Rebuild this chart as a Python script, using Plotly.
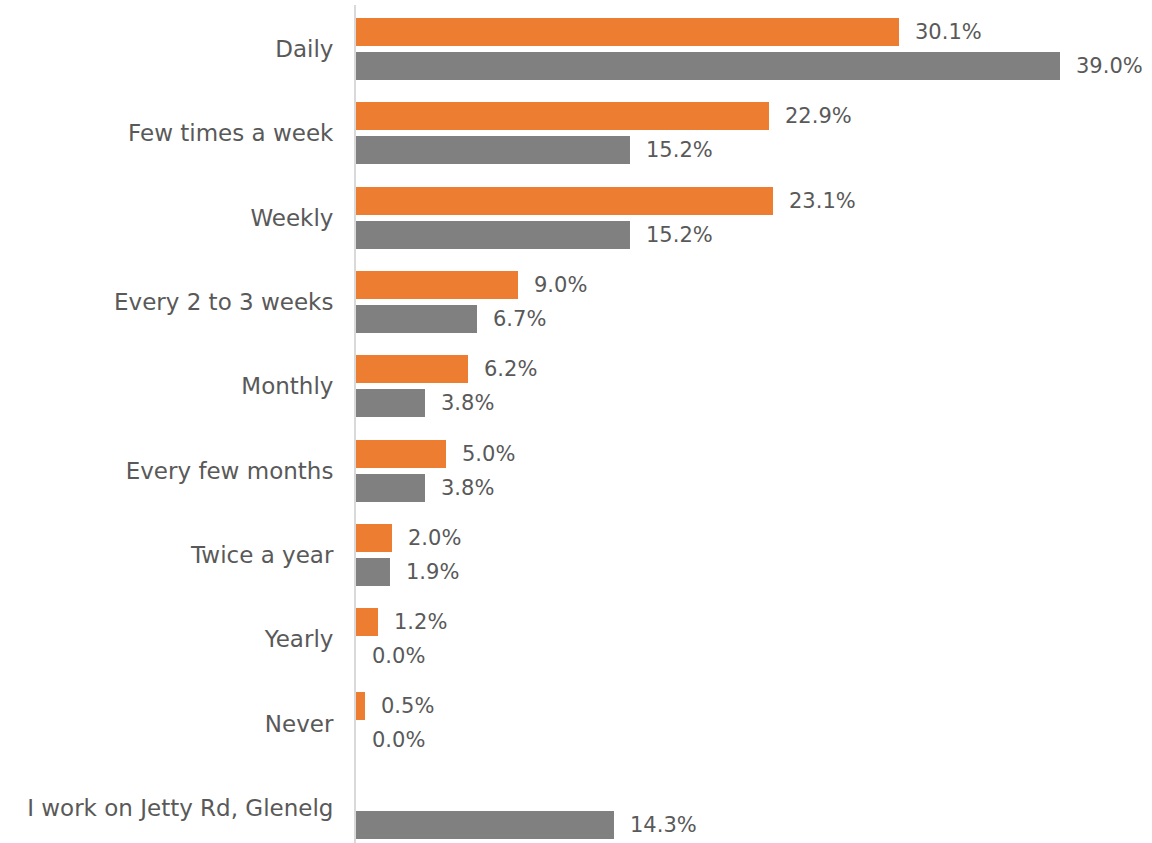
import plotly.graph_objects as go

categories = [
    "Daily",
    "Few times a week",
    "Weekly",
    "Every 2 to 3 weeks",
    "Monthly",
    "Every few months",
    "Twice a year",
    "Yearly",
    "Never",
    "I work on Jetty Rd, Glenelg",
]
orange_values = [30.1, 22.9, 23.1, 9.0, 6.2, 5.0, 2.0, 1.2, 0.5, None]
gray_values = [39.0, 15.2, 15.2, 6.7, 3.8, 3.8, 1.9, 0.0, 0.0, 14.3]

ORANGE = "#ED7D31"
GRAY = "#808080"
TEXT = "#595959"
FONT = "DejaVu Sans"

BAR_W = 0.332
OFFSET = 0.2017

idx = list(range(len(categories)))
y_orange = [k - OFFSET for k in idx]
y_gray = [k + OFFSET for k in idx]

fig = go.Figure()
fig.add_trace(go.Bar(
    x=orange_values, y=y_orange, orientation="h", width=BAR_W,
    marker=dict(color=ORANGE, line=dict(width=0)), showlegend=False,
    hoverinfo="skip",
))
fig.add_trace(go.Bar(
    x=gray_values, y=y_gray, orientation="h", width=BAR_W,
    marker=dict(color=GRAY, line=dict(width=0)), showlegend=False,
    hoverinfo="skip",
))

# value labels to the right of each bar
for vals, ys in ((orange_values, y_orange), (gray_values, y_gray)):
    for v, y in zip(vals, ys):
        if v is None:
            continue
        fig.add_annotation(
            x=v, y=y, text=f"{v:.1f}%", showarrow=False,
            xanchor="left", yanchor="middle", xshift=14,
            font=dict(family=FONT, size=21, color=TEXT),
        )

fig.update_layout(
    width=1152, height=843,
    margin=dict(l=356, r=2, t=5, b=0),
    plot_bgcolor="white", paper_bgcolor="white",
    font=dict(family=FONT, size=21, color=TEXT),
    bargap=0,
)
fig.update_xaxes(
    range=[0, 44], visible=False, showgrid=False, zeroline=False,
)
fig.update_yaxes(
    range=[9.418, -0.522],
    tickmode="array", tickvals=idx, ticktext=categories,
    showgrid=False, zeroline=False,
    showline=True, linecolor="#D9D9D9", linewidth=2,
    ticks="", ticklabelstandoff=16,
    tickfont=dict(family=FONT, size=23, color=TEXT),
)

fig.write_html("out.html")
